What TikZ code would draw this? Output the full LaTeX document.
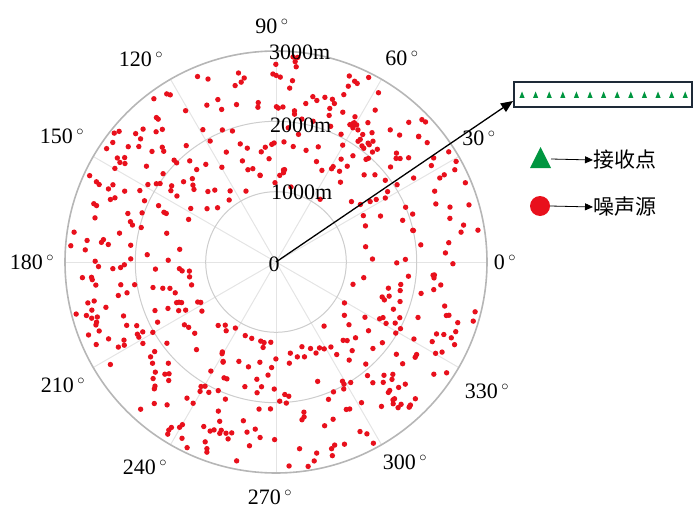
\documentclass[tikz,border=0pt]{standalone}
\usepackage{fontspec}
\setmainfont{Liberation Serif}
\newfontfamily\cjk{Noto Sans CJK SC}
\usetikzlibrary{arrows.meta}
\definecolor{dotred}{RGB}{232,16,28}
\definecolor{spokegray}{RGB}{228,228,228}
\definecolor{ringgray}{RGB}{205,205,205}
\definecolor{outergray}{RGB}{182,182,182}
\definecolor{boxnavy}{RGB}{30,42,56}
\definecolor{recgreen}{RGB}{0,150,64}
\begin{document}
\begin{tikzpicture}[x=1pt,y=1pt,
  lbl/.style={font=\fontsize{22}{22}\selectfont, inner sep=0pt},
  cjklbl/.style={font=\cjk\fontsize{21}{21}\selectfont, inner sep=0pt, anchor=west},
  dot/.style={fill=dotred},
  rec/.style={fill=recgreen, draw=none},
  legarrow/.style={-{Triangle[length=8pt,width=7pt]}, line width=0.8pt},
  mainarrow/.style={-{Triangle[length=12pt,width=10pt]}, line width=1.3pt}]
\useasboundingbox (-276,-263) rectangle (424,262);
% spokes and rings
\foreach \a in {0,30,...,330} \draw[spokegray, line width=1pt] (0,0) -- (\a:211);
\draw[ringgray, line width=1pt] (0,0) circle (70.3) (0,0) circle (140.7);
\draw[outergray, line width=1.6pt] (0,0) circle (211);
% noise sources
\pgfmathsetseed{2024}
\foreach \i in {1,...,520}{
  \pgfmathsetmacro\ang{360*rnd}
  \pgfmathsetmacro\rr{100*sqrt(0.5776+rnd*(4.2849-0.5776))}
  \fill[dot] (\ang:\rr) circle (2.7);
}
% angle labels
\node[lbl] (a90)  at (-4,236)   {90\,${}^{\circ}$};
\node[lbl] (a60)  at (126,204)  {60\,${}^{\circ}$};
\node[lbl] (a30)  at (203,124)  {30\,${}^{\circ}$};
\node[lbl] (a0)   at (229,0)    {0\,${}^{\circ}$};
\node[lbl] (a330) at (211,-129) {330\,${}^{\circ}$};
\node[lbl] (a300) at (129,-200) {300\,${}^{\circ}$};
\node[lbl] (a270) at (-6,-235)  {270\,${}^{\circ}$};
\node[lbl] (a240) at (-131,-205){240\,${}^{\circ}$};
\node[lbl] (a210) at (-213,-123){210\,${}^{\circ}$};
\node[lbl] (a180) at (-244,0)   {180\,${}^{\circ}$};
\node[lbl] (a150) at (-214,126) {150\,${}^{\circ}$};
\node[lbl] (a120) at (-135,203) {120\,${}^{\circ}$};
% radius labels
\node[lbl, anchor=west] (r3) at (-7,210) {3000m};
\node[lbl, anchor=west] (r2) at (-6,137) {2000m};
\node[lbl, anchor=west] (r1) at (-5,70)  {1000m};
\node[lbl] (zero) at (-2,-2) {0};
% receiver array box
\node[draw=boxnavy, line width=2pt, minimum width=178pt, minimum height=25pt, inner sep=0pt, anchor=south west, fill=white] (box) at (237,154) {};
\foreach \i in {0,...,12}{
  \fill[rec] ({246+\i*13.6-2.6},164) -- ({246+\i*13.6+2.6},164) -- ({246+\i*13.6},170.5) -- cycle;
}
\coordinate (O) at (0,0);
\coordinate (tip) at (237,161);
\draw[mainarrow] (O) -- (tip);
% legend
\coordinate (legtri) at (275,103);
\fill[rec] (254,94) -- (275,94) -- (264.5,115) -- cycle;
\node[circle, fill=dotred, minimum size=20pt, inner sep=0pt] (legdot) at (264,56) {};
\node[cjklbl] (t1) at (317,102) {接收点};
\node[cjklbl] (t2) at (317,55) {噪声源};
\draw[legarrow] (legtri) -- (t1.west);
\draw[legarrow] (legdot.east) -- (t2.west);
\end{tikzpicture}
\end{document}
